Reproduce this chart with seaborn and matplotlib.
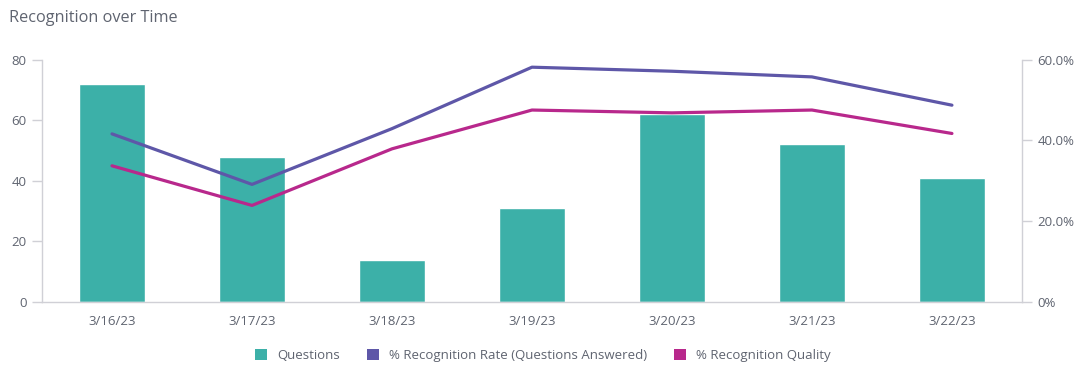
import matplotlib
matplotlib.use("Agg")
import matplotlib.pyplot as plt
from matplotlib.patches import Patch
import seaborn as sns
import pandas as pd

dates = ["3/16/23", "3/17/23", "3/18/23", "3/19/23", "3/20/23", "3/21/23", "3/22/23"]
questions = [72, 48, 14, 31, 62, 52, 41]
recognition_rate = [41.6, 29.1, 42.9, 58.1, 57.1, 55.7, 48.7]
recognition_quality = [33.7, 23.9, 37.9, 47.5, 46.8, 47.5, 41.7]

left_ticks = [0, 20, 40, 60, 80]
right_ticks = [0, 20, 40, 60]
right_labels = ["0%", "20.0%", "40.0%", "60.0%"]

title = "Recognition over Time"
series_names = ["Questions", "% Recognition Rate (Questions Answered)", "% Recognition Quality"]

teal = "#3cb0a8"
purple = "#5e57a8"
magenta = "#b8288c"
axis_col = "#d0d0d6"
text_col = "#5f6470"

sns.set_theme(style="white")
plt.rcParams["font.family"] = ["Open Sans", "DejaVu Sans"]

df = pd.DataFrame({"date": dates, "questions": questions,
                   "rate": recognition_rate, "quality": recognition_quality})

fig = plt.figure(figsize=(10.86, 3.81), dpi=100)
ax = fig.add_axes([0.0387, 0.2073, 0.9023, 0.6365])
sns.barplot(data=df, x="date", y="questions", color=teal, saturation=1,
            width=0.47, ax=ax)
ax.set_ylim(0, 80)
ax.set_xlim(-0.5, 6.5)
ax.set_yticks(left_ticks)
ax.set_xlabel("")
ax.set_ylabel("")

ax2 = ax.twinx()
sns.lineplot(data=df, x="date", y="rate", color=purple, linewidth=2.3,
             sort=False, ax=ax2)
sns.lineplot(data=df, x="date", y="quality", color=magenta, linewidth=2.3,
             sort=False, ax=ax2)
ax2.set_ylim(0, 60)
ax2.set_xlim(-0.5, 6.5)
ax2.set_yticks(right_ticks)
ax2.set_yticklabels(right_labels)
ax2.set_ylabel("")
ax2.set_xlabel("")

for a in (ax, ax2):
    a.spines["top"].set_visible(False)
    for s in ("left", "right", "bottom"):
        a.spines[s].set_color(axis_col)
        a.spines[s].set_linewidth(1.0)
    a.tick_params(axis="both", colors=axis_col, labelcolor=text_col,
                  labelsize=9.5, length=7, width=1.0, direction="out", pad=4)
ax.spines["right"].set_visible(False)
ax2.spines["left"].set_visible(False)
ax2.spines["bottom"].set_visible(False)
ax.tick_params(axis="x", length=5)
ax2.tick_params(axis="x", length=0)

fig.text(0.008, 0.953, title, fontsize=11.7, color=text_col, va="center", ha="left")

handles = [Patch(facecolor=c, edgecolor="none") for c in (teal, purple, magenta)]
fig.legend(handles, series_names, loc="center", bbox_to_anchor=(0.5, 0.068),
           ncol=3, frameon=False, fontsize=9.5, labelcolor=text_col,
           handlelength=0.9, handleheight=0.9, handletextpad=0.8, columnspacing=2.0)

fig.savefig("out.png", dpi=100)
